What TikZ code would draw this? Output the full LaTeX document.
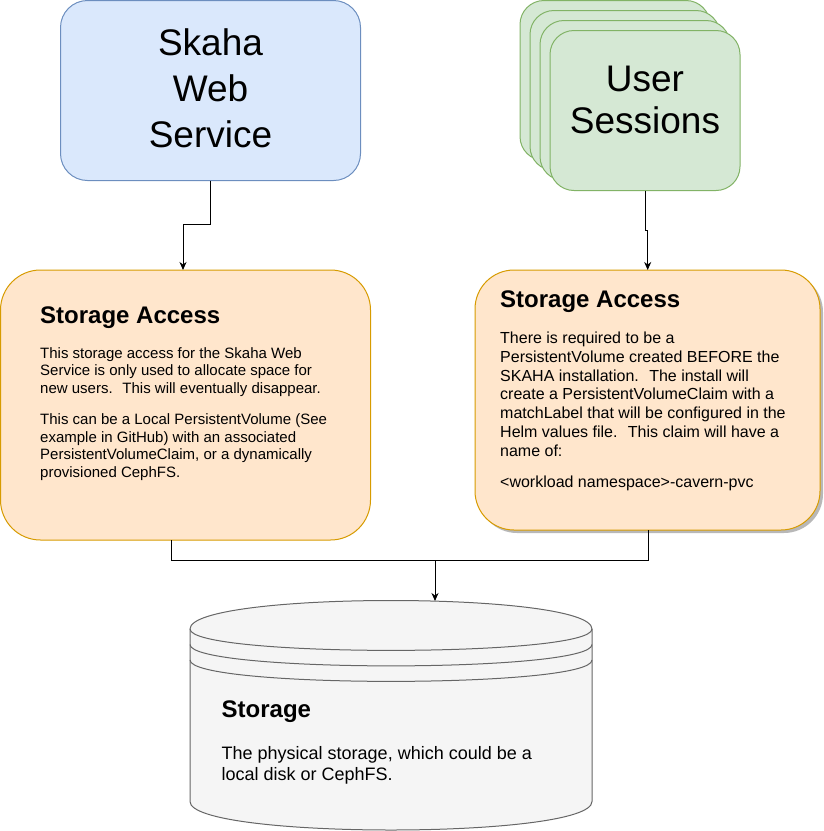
\documentclass[tikz,border=0pt]{standalone}
\usepackage{fontspec}
\setmainfont{Liberation Sans}
\usetikzlibrary{arrows.meta,shadows}
\definecolor{bluefill}{HTML}{DAE8FC}
\definecolor{bluedraw}{HTML}{6C8EBF}
\definecolor{greenfill}{HTML}{D5E8D4}
\definecolor{greendraw}{HTML}{82B366}
\definecolor{orangefill}{HTML}{FFE6CC}
\definecolor{orangedraw}{HTML}{D79B00}
\definecolor{grayfill}{HTML}{F5F5F5}
\definecolor{graydraw}{HTML}{666666}
\begin{document}
\begin{tikzpicture}[x=1pt,y=-1pt,
  shapebox/.style={draw, line width=1pt, inner sep=0pt, outer sep=0pt},
  skahabox/.style={shapebox, draw=bluedraw, fill=bluefill, rounded corners=27pt, minimum width=300pt, minimum height=180pt},
  sessbox/.style={shapebox, draw=greendraw, fill=greenfill, rounded corners=24pt, minimum width=190pt, minimum height=160pt},
  accbox/.style={shapebox, draw=orangedraw, fill=orangefill},
  bigtxt/.style={anchor=base, inner sep=0pt},
  titletxt/.style={anchor=base west, inner sep=0pt, font=\fontsize{24}{28}\selectfont\bfseries},
  bodytxt/.style={anchor=base west, inner sep=0pt},
  conn/.style={draw=black, line width=1pt},
  arr/.style={conn, -{Stealth[length=8pt,width=7pt,inset=2.5pt]}}
]
\useasboundingbox (0,0) rectangle (823,831);

% Skaha Web Service
\node[skahabox] (skaha) at (210.5,90.5) {};
\node[bigtxt] (skahat) at (210.5,55.5) {\parbox[t]{300pt}{\centering\fontsize{37}{46}\selectfont Skaha\\Web\\Service}};

% User Sessions stack
\node[sessbox] (sess1) at (615,80.5) {};
\node[sessbox] (sess2) at (625,90.5) {};
\node[sessbox] (sess3) at (635,100.5) {};
\node[sessbox] (sess4) at (645,110.5) {};
\node[bigtxt] (sesst) at (645,91) {\parbox[t]{190pt}{\centering\fontsize{37}{42}\selectfont User\\Sessions}};

% Storage access boxes
\node[accbox, rounded corners=40pt, minimum width=370pt, minimum height=270pt] (accl) at (185.5,405) {};
\node[accbox, rounded corners=39pt, minimum width=345pt, minimum height=260pt,
  drop shadow={shadow xshift=3pt, shadow yshift=-3pt, fill=black!28, opacity=1}] (accr) at (647.5,400) {};

\node[titletxt] (acclt) at (40,323) {Storage Access};
\node[bodytxt] (acclb) at (40,358.2) {\parbox[t]{330pt}{\fontsize{15}{17.6}\selectfont
This storage access for the Skaha Web\\
Service is only used to allocate space for\\
new users.~ This will eventually disappear.\\[13.6pt]
This can be a Local PersistentVolume (See\\
example in GitHub) with an associated\\
PersistentVolumeClaim, or a dynamically\\
provisioned CephFS.}};

\node[titletxt] (accrt) at (500,307) {Storage Access};
\node[bodytxt] (accrb) at (500,343.2) {\parbox[t]{320pt}{\fontsize{16}{18.9}\selectfont
There is required to be a\\
PersistentVolume created BEFORE the\\
SKAHA installation.~ The install will\\
create a PersistentVolumeClaim with a\\
matchLabel that will be configured in the\\
Helm values file.~ This claim will have a\\
name of:\\[11.7pt]
<workload namespace>-cavern-pvc}};

% Storage cylinder
\path[draw=graydraw, fill=grayfill, line width=1pt]
  (190,629) .. controls (190,591) and (592,591) .. (592,629)
  -- (592,801.5) .. controls (592,839.5) and (190,839.5) .. (190,801.5) -- cycle;
\draw[graydraw, line width=1pt] (190,629) .. controls (190,657.5) and (592,657.5) .. (592,629);
\draw[graydraw, line width=1pt] (190,644.5) .. controls (190,673) and (592,673) .. (592,644.5);
\draw[graydraw, line width=1pt] (190,660) .. controls (190,688.5) and (592,688.5) .. (592,660);
\coordinate (stortop) at (435,601);

\node[titletxt] (stort) at (221.5,717.7) {Storage};
\node[bodytxt] (storb) at (221.5,759.3) {\parbox[t]{360pt}{\fontsize{18}{20.7}\selectfont
The physical storage, which could be a\\
local disk or CephFS.}};

% Connectors
\coordinate (j1a) at (210.5,224);
\coordinate (j1b) at (183,224);
\coordinate (e1) at (183,270);
\draw[arr] (skaha.south) -- (j1a) -- (j1b) -- (e1);

\coordinate (j2a) at (645,230);
\coordinate (j2b) at (647.7,230);
\coordinate (e2) at (647.7,270);
\draw[arr] (sess4.south) -- (j2a) -- (j2b) -- (e2);

\coordinate (l1) at (171,540);
\coordinate (l2) at (171,560.5);
\coordinate (r1) at (648,530);
\coordinate (r2) at (648,560.5);
\coordinate (m) at (435,560.5);
\draw[conn] (l1) -- (l2) -- (m);
\draw[conn] (r1) -- (r2) -- (m);
\draw[arr] (m) -- (stortop);
\end{tikzpicture}
\end{document}
